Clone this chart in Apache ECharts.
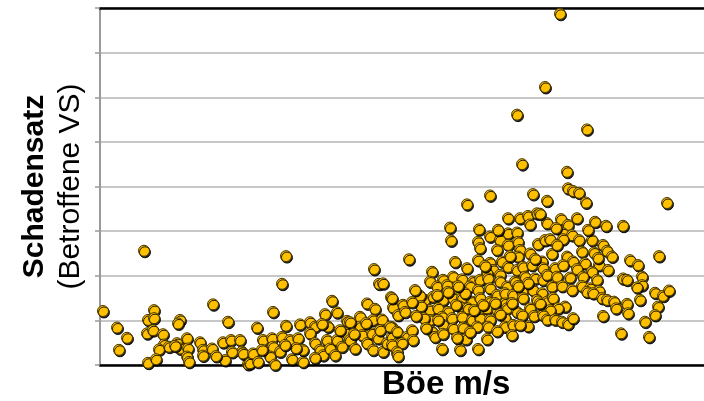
<!DOCTYPE html>
<html>
<head>
<meta charset="utf-8">
<script src="https://cdn.jsdelivr.net/npm/echarts@6/dist/echarts.min.js"></script>
<style>
  html, body { margin: 0; padding: 0; background: #ffffff; }
  #chart { width: 704px; height: 401px; }
</style>
</head>
<body>
<div id="chart"></div>
<script>
(function () {
  // Böe (relative units) / Schadensatz
  var calmPoints = [
    [0.3, 1.21], [4.4, 2.56], [11.3, 1.36], [5.4, 1.23], [4.8, 1.01], [5.4, 1.05], [8.0, 1.01],
    [7.8, 0.93], [12.8, 0.97], [1.7, 0.84], [2.7, 0.61], [1.9, 0.34], [4.7, 0.71], [5.3, 0.78],
    [6.3, 0.69], [6.4, 0.46], [5.9, 0.35], [6.9, 0.41], [7.7, 0.49], [8.0, 0.37], [8.7, 0.60],
    [8.8, 0.37], [8.7, 0.19], [8.9, 0.07], [10.0, 0.51], [10.3, 0.34], [10.3, 0.21], [11.2, 0.37],
    [12.3, 0.51], [13.1, 0.56], [14.0, 0.56], [14.2, 0.30], [14.7, 0.19], [14.8, 0.02], [4.8, 0.05],
    [5.6, 0.13], [7.5, 0.43], [13.2, 0.29], [12.5, 0.11], [11.6, 0.20]
  ];

  var moderatePoints = [
    [18.6, 2.44], [18.2, 1.82], [17.3, 1.19], [15.7, 0.84], [23.2, 1.44], [23.7, 1.18], [22.5, 1.14],
    [27.4, 2.15], [27.9, 1.82], [28.3, 1.83], [29.1, 1.52], [29.3, 1.29], [26.7, 1.38], [27.5, 1.26],
    [26.0, 1.08], [24.7, 0.99], [18.6, 0.88], [20.0, 0.91], [21.0, 0.96], [21.5, 0.86], [22.8, 0.86],
    [22.2, 0.92], [27.3, 1.01], [28.2, 1.02], [29.2, 0.85], [29.8, 1.12], [14.3, 0.26], [15.0, 0.04],
    [15.3, 0.26], [15.8, 0.07], [16.3, 0.56], [17.2, 0.60], [17.3, 0.41], [17.0, 0.19], [17.5, 0.01],
    [18.2, 0.63], [18.0, 0.30], [19.0, 0.56], [19.2, 0.13], [19.8, 0.60], [20.3, 0.07], [20.3, 0.34],
    [21.0, 0.71], [21.5, 0.49], [22.0, 0.34], [22.3, 0.22], [22.7, 0.56], [23.0, 0.37], [23.7, 0.56],
    [24.2, 0.41], [24.7, 0.71], [25.0, 0.56], [25.5, 0.37], [26.0, 0.86], [26.2, 0.67], [26.7, 0.49],
    [27.2, 0.71], [27.3, 0.34], [27.8, 0.60], [28.3, 0.30], [28.7, 0.49], [29.2, 0.63], [29.7, 0.26],
    [29.8, 0.50], [25.0, 0.96], [24.0, 0.78], [23.5, 0.22], [21.5, 0.16], [19.6, 0.38], [18.5, 0.45],
    [16.2, 0.34], [26.6, 0.94], [25.4, 0.70], [28.0, 0.78], [29.2, 0.45]
  ];

  var stormPoints = [
    [39.0, 3.80], [36.7, 3.60], [43.3, 3.83], [44.7, 3.68], [35.0, 3.08], [35.1, 2.79], [30.9, 2.37],
    [37.9, 3.04], [40.8, 3.29], [42.0, 3.29], [42.8, 3.34], [43.7, 3.40], [43.0, 3.15], [44.7, 3.18],
    [40.8, 2.95], [41.7, 2.97], [39.0, 2.88], [37.8, 2.76], [38.0, 2.62], [37.8, 2.35], [40.0, 2.80],
    [39.7, 2.58], [40.8, 2.69], [41.8, 2.76], [42.0, 2.58], [41.8, 2.43], [43.0, 2.50], [43.8, 2.71],
    [44.5, 2.80], [39.0, 2.29], [40.2, 2.32], [39.3, 2.13], [38.7, 2.06], [40.0, 2.02], [40.8, 2.20],
    [41.7, 2.13], [42.3, 2.20], [43.2, 2.24], [44.2, 2.32], [44.3, 2.17], [33.2, 2.09], [33.0, 1.87],
    [34.3, 1.91], [35.3, 1.98], [36.2, 1.92], [37.3, 1.87], [38.0, 1.91], [38.8, 1.94], [40.0, 1.87],
    [40.7, 1.76], [41.5, 1.87], [42.5, 1.98], [43.5, 1.94], [44.3, 1.91], [33.7, 1.76], [34.7, 1.79],
    [35.7, 1.68], [37.0, 1.76], [37.8, 1.68], [39.0, 1.72], [39.7, 1.57], [40.5, 1.61], [41.3, 1.57],
    [42.2, 1.64], [43.3, 1.68], [44.2, 1.61], [32.5, 1.46], [33.3, 1.53], [34.3, 1.46], [35.3, 1.50],
    [36.2, 1.50], [37.2, 1.42], [38.0, 1.50], [39.0, 1.42], [40.5, 1.38], [42.3, 1.50], [43.7, 1.46],
    [44.7, 1.42], [29.2, 1.50], [30.3, 1.35], [30.5, 1.19], [33.0, 1.23], [33.8, 1.27], [34.8, 1.19],
    [36.0, 1.31], [36.8, 1.27], [37.8, 1.19], [38.7, 1.27], [39.7, 1.23], [40.7, 1.27], [41.7, 1.19],
    [43.0, 1.27], [44.3, 1.19], [33.0, 1.01], [34.2, 1.08], [35.2, 1.05], [36.2, 1.08], [37.2, 1.01],
    [38.0, 1.05], [39.0, 1.01], [40.5, 1.05], [42.8, 0.87], [44.7, 1.08], [33.2, 0.75], [34.3, 0.90],
    [35.3, 0.82], [36.3, 0.84], [37.7, 0.86], [38.8, 0.86], [40.5, 0.86], [41.3, 0.90], [33.5, 0.63],
    [34.3, 0.70], [36.6, 0.58], [38.7, 0.58], [41.2, 0.67], [34.2, 0.36], [36.0, 0.34], [37.8, 0.36],
    [29.0, 0.86], [29.7, 0.75], [30.7, 0.63], [31.2, 0.78], [31.3, 0.56], [30.2, 0.49], [29.7, 0.30],
    [29.8, 0.20], [32.0, 1.55], [32.1, 1.32], [32.4, 1.05], [32.6, 0.83], [33.7, 1.57], [34.8, 1.64],
    [35.6, 1.35], [36.5, 1.61], [37.4, 1.23], [38.3, 1.35], [39.5, 1.39], [40.0, 1.14], [41.2, 1.39],
    [42.2, 1.12], [43.4, 1.10], [33.8, 1.01], [35.7, 0.61], [37.0, 0.74], [39.7, 0.76], [42.0, 0.90],
    [35.8, 1.77], [38.5, 2.22], [36.7, 2.17], [35.5, 2.31], [42.8, 1.84], [41.8, 1.77], [43.5, 2.38],
    [41.0, 2.44], [39.8, 3.03], [31.5, 1.68], [31.2, 1.41], [31.6, 1.10]
  ];

  var strongPoints = [
    [46.8, 3.96], [47.3, 3.90], [47.9, 3.86], [48.6, 3.64], [56.7, 3.63], [46.1, 3.27], [46.8, 3.14],
    [47.7, 3.29], [49.5, 3.21], [50.6, 3.12], [52.3, 3.12], [44.0, 3.39], [45.0, 2.82], [46.3, 2.95],
    [47.2, 2.91], [47.9, 2.80], [49.2, 2.80], [46.3, 2.82], [50.3, 2.69], [50.7, 2.56], [51.2, 2.43],
    [48.2, 2.54], [49.4, 2.52], [45.2, 2.49], [46.7, 2.43], [47.3, 2.32], [48.5, 2.28], [49.9, 2.24],
    [50.8, 2.13], [45.5, 2.17], [46.3, 2.24], [47.7, 2.15], [49.2, 2.09], [53.0, 2.35], [53.8, 2.24],
    [55.9, 2.44], [44.7, 2.02], [45.7, 1.98], [47.0, 1.96], [48.3, 1.98], [49.7, 1.91], [52.3, 1.94],
    [52.7, 1.91], [54.2, 1.98], [54.2, 1.79], [53.7, 1.74], [45.2, 1.76], [46.2, 1.77], [47.2, 1.68],
    [48.2, 1.77], [49.0, 1.72], [49.9, 1.66], [45.3, 1.50], [48.7, 1.64], [49.3, 1.61], [50.2, 1.50],
    [50.7, 1.46], [51.4, 1.42], [51.6, 1.27], [52.7, 1.37], [52.8, 1.16], [54.0, 1.46], [55.5, 1.62],
    [56.3, 1.55], [56.9, 1.67], [55.8, 1.31], [55.5, 1.12], [54.5, 0.97], [50.3, 1.10], [46.5, 1.31],
    [45.8, 1.27], [45.0, 1.23], [44.3, 1.12], [44.7, 1.02], [45.5, 1.02], [46.2, 0.97], [46.8, 0.92],
    [47.3, 1.05], [52.1, 0.71], [54.9, 0.63], [44.0, 1.38], [45.6, 3.07], [45.7, 2.69], [48.8, 3.03],
    [49.8, 2.40]
  ];

  var outlierPoints = [
    [44.5, 6.23], [41.7, 5.61], [42.2, 4.50], [46.0, 7.87], [48.7, 5.28], [46.7, 4.33]
  ];

  var yTicks = [0, 1, 2, 3, 4, 5, 6, 7, 8];

  var allPoints = calmPoints.concat(moderatePoints, stormPoints, strongPoints, outlierPoints);

  var chart = echarts.init(document.getElementById("chart"), null, { renderer: "canvas" });

  chart.setOption({
    animation: false,
    backgroundColor: "#ffffff",
    textStyle: { fontFamily: "Liberation Sans, Arial, sans-serif" },
    grid: { left: 100, right: 0, top: 8, bottom: 36 },
    title: {
      text: "Böe m/s",
      left: 377,
      top: 363,
      textStyle: {
        fontFamily: "Liberation Sans, Arial, sans-serif",
        fontSize: 33,
        fontWeight: "bold",
        color: "#000000"
      }
    },
    xAxis: [
      {
        type: "value",
        min: 0,
        max: 60.4,
        position: "bottom",
        axisLine: { show: true, onZero: false, lineStyle: { color: "#000000", width: 2.5 } },
        axisTick: { show: false },
        axisLabel: { show: false },
        splitLine: { show: false }
      },
      {
        type: "value",
        min: 0,
        max: 60.4,
        position: "top",
        axisLine: { show: true, onZero: false, lineStyle: { color: "#000000", width: 2.5 } },
        axisTick: { show: false },
        axisLabel: { show: false },
        splitLine: { show: false }
      }
    ],
    yAxis: {
      type: "value",
      min: yTicks[0],
      max: yTicks[yTicks.length - 1],
      interval: 1,
      axisLine: { show: true, lineStyle: { color: "#9a9a9a", width: 2 } },
      axisTick: { show: true, length: 5, lineStyle: { color: "#9a9a9a", width: 1.5 } },
      axisLabel: { show: false },
      splitLine: { show: true, lineStyle: { color: "#b4b4b4", width: 1.5 } },
      name: "{b|Schadensatz}\n{n|(Betroffene VS)}",
      nameLocation: "middle",
      nameGap: 11,
      nameTextStyle: {
        color: "#000000",
        rich: {
          b: { fontSize: 30, fontWeight: "bold", lineHeight: 36, color: "#000000" },
          n: { fontSize: 30, lineHeight: 36, color: "#000000" }
        }
      }
    },
    series: [
      {
        type: "scatter",
        data: allPoints,
        symbol: "circle",
        symbolSize: 11,
        clip: false,
        itemStyle: {
          color: "#FFC000",
          borderColor: "#4a3a00",
          borderWidth: 1,
          opacity: 1,
          shadowColor: "rgba(0,0,0,0.85)",
          shadowOffsetX: 1,
          shadowOffsetY: 1.5,
          shadowBlur: 0
        }
      }
    ]
  });
})();
</script>
</body>
</html>
